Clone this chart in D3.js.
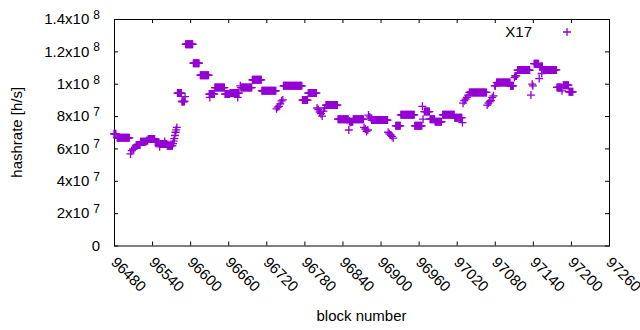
<!DOCTYPE html>
<html>
<head>
<meta charset="utf-8">
<script src="https://cdn.jsdelivr.net/npm/d3@7"></script>
<style>
  body { margin: 0; background: #fff; }
  text { font-family: "Liberation Sans", Arial, sans-serif; fill: #000; }
</style>
</head>
<body>
<div id="chart"></div>
<script>
// hashrate per block, read as runs: [first block, last block, hashrate in MH/s]
const hashRuns = [
  [96480, 96483, 69.0], [96485, 96504, 66.6], [96506, 96506, 56.6], [96508, 96508, 58.6],
  [96510, 96511, 59.6], [96513, 96513, 60.8], [96515, 96521, 62.1], [96522, 96530, 64.1],
  [96531, 96533, 64.8], [96534, 96544, 65.8], [96545, 96551, 63.7], [96552, 96552, 61.0],
  [96553, 96563, 62.7], [96560, 96560, 64.3], [96564, 96572, 61.7], [96573, 96573, 63.0],
  [96574, 96574, 64.5], [96575, 96575, 66.0], [96576, 96576, 68.0], [96577, 96577, 70.0],
  [96578, 96578, 71.5], [96579, 96579, 73.0], [96580, 96586, 94.2], [96587, 96591, 89.0],
  [96592, 96592, 92.0], [96593, 96604, 124.4], [96605, 96614, 112.7], [96616, 96629, 105.3],
  [96630, 96638, 93.6], [96631, 96631, 91.5], [96639, 96654, 97.6], [96655, 96662, 93.6],
  [96663, 96677, 94.2], [96675, 96675, 91.5], [96679, 96679, 98.7], [96680, 96697, 97.6],
  [96698, 96712, 102.4], [96713, 96735, 95.6], [96736, 96736, 84.5], [96738, 96738, 85.5],
  [96740, 96740, 86.0], [96742, 96742, 87.5], [96744, 96744, 89.4], [96746, 96746, 90.0],
  [96747, 96776, 98.7], [96777, 96785, 89.9], [96786, 96799, 94.2], [96800, 96800, 85.0],
  [96802, 96802, 84.0], [96804, 96804, 82.5], [96806, 96806, 81.5], [96808, 96808, 80.0],
  [96810, 96810, 83.0], [96812, 96812, 85.0], [96814, 96832, 86.8], [96833, 96849, 78.1],
  [96850, 96850, 71.4], [96851, 96851, 77.0], [96852, 96852, 76.0], [96853, 96856, 76.5],
  [96857, 96873, 78.1], [96874, 96874, 73.0], [96876, 96876, 72.0], [96878, 96878, 70.5],
  [96880, 96880, 71.4], [96881, 96881, 80.6], [96883, 96883, 79.5], [96885, 96885, 78.5],
  [96886, 96911, 77.5], [96912, 96912, 70.0], [96914, 96914, 69.0], [96916, 96916, 68.3],
  [96918, 96918, 67.5], [96920, 96920, 66.4], [96924, 96931, 74.0], [96932, 96953, 80.8],
  [96954, 96965, 74.0], [96966, 96966, 86.0], [96967, 96967, 78.1], [96969, 96977, 82.8],
  [96978, 96985, 78.1], [96986, 96996, 76.5], [96998, 97016, 80.8], [97017, 97028, 79.0],
  [97029, 97029, 76.0], [97030, 97030, 88.0], [97032, 97032, 89.5], [97034, 97034, 90.5],
  [97036, 97036, 91.5], [97038, 97038, 93.0], [97040, 97067, 94.6], [97068, 97068, 86.8],
  [97070, 97070, 88.0], [97072, 97072, 89.0], [97074, 97074, 89.5], [97076, 97076, 91.5],
  [97078, 97078, 92.5], [97080, 97081, 98.7], [97083, 97104, 100.7], [97105, 97109, 98.7],
  [97111, 97111, 103.8], [97112, 97114, 104.8], [97116, 97135, 108.4], [97137, 97137, 93.0],
  [97139, 97139, 99.7], [97140, 97140, 98.7], [97142, 97149, 112.4], [97150, 97150, 103.2],
  [97151, 97155, 110.6], [97154, 97154, 106.3], [97156, 97177, 108.5], [97178, 97185, 97.7],
  [97186, 97186, 95.6], [97188, 97196, 99.1], [97197, 97203, 95.0]
];
const xTicks = [96480, 96540, 96600, 96660, 96720, 96780, 96840, 96900, 96960, 97020, 97080, 97140, 97200, 97260];
const yTicks = [0, 2e7, 4e7, 6e7, 8e7, 1e8, 1.2e8, 1.4e8];
const seriesName = "X17";

// one point per block
const data = [];
hashRuns.forEach(([b0, b1, v]) => {
  for (let b = b0; b <= b1; b++) data.push({ block: b, rate: v * 1e6 });
});

const width = 640, height = 330;
const margin = ({ top: 19, right: 31, bottom: 84.5, left: 114 });
const color = "#9400d3";

const x = d3.scaleLinear()
  .domain([96480, 97260])
  .range([margin.left, width - margin.right]);
const y = d3.scaleLinear()
  .domain([0, 1.4e8])
  .range([height - margin.bottom, margin.top]);

const svg = d3.select("#chart")
  .append("svg")
  .attr("width", width)
  .attr("height", height)
  .attr("viewBox", [0, 0, width, height]);

// inward ticks on all four sides, gnuplot-ish
const tick = 4;
svg.append("g")
  .attr("transform", `translate(0,${height - margin.bottom})`)
  .call(d3.axisBottom(x).tickValues(xTicks).tickSize(-tick).tickSizeOuter(0).tickFormat(""))
  .call(g => g.select(".domain").remove());
svg.append("g")
  .attr("transform", `translate(0,${margin.top})`)
  .call(d3.axisTop(x).tickValues(xTicks).tickSize(-tick).tickSizeOuter(0).tickFormat(""))
  .call(g => g.select(".domain").remove());
svg.append("g")
  .attr("transform", `translate(${margin.left},0)`)
  .call(d3.axisLeft(y).tickValues(yTicks).tickSize(-tick).tickSizeOuter(0).tickFormat(""))
  .call(g => g.select(".domain").remove());
svg.append("g")
  .attr("transform", `translate(${width - margin.right},0)`)
  .call(d3.axisRight(y).tickValues(yTicks).tickSize(-tick).tickSizeOuter(0).tickFormat(""))
  .call(g => g.select(".domain").remove());

svg.selectAll(".tick line").attr("stroke", "#000");

// border box
svg.append("rect")
  .attr("x", margin.left + 0.5)
  .attr("y", margin.top + 0.5)
  .attr("width", width - margin.right - margin.left)
  .attr("height", height - margin.bottom - margin.top)
  .attr("fill", "none")
  .attr("stroke", "#000")
  .attr("stroke-width", 1);

// y tick labels like 1.4x10^8
const yLab = svg.append("g")
  .attr("font-size", 15)
  .selectAll("text")
  .data(yTicks)
  .join("text")
  .attr("x", 100)
  .attr("y", d => y(d))
  .attr("dy", "0.35em")
  .attr("text-anchor", "end");
yLab.each(function (d) {
  const t = d3.select(this);
  if (d === 0) { t.text("0"); return; }
  const e = Math.floor(Math.log10(d));
  const m = +(d / Math.pow(10, e)).toFixed(1);
  t.append("tspan").text(`${m}x10`);
  t.append("tspan").attr("dx", 4).attr("dy", "-0.45em").attr("font-size", 12).text(e);
});

// x tick labels, rotated
svg.append("g")
  .attr("font-size", 15)
  .selectAll("text")
  .data(xTicks)
  .join("text")
  .attr("transform", d => `translate(${x(d)},${height - margin.bottom + 14}) rotate(45)`)
  .attr("dy", "0.35em")
  .attr("text-anchor", "start")
  .text(d => d);

svg.append("text")
  .attr("x", (margin.left + width - margin.right) / 2)
  .attr("y", 321)
  .attr("text-anchor", "middle")
  .attr("font-size", 15)
  .text("block number");

svg.append("text")
  .attr("transform", `translate(22,${(margin.top + height - margin.bottom) / 2}) rotate(-90)`)
  .attr("text-anchor", "middle")
  .attr("font-size", 15)
  .text("hashrate [h/s]");

const plus = 4;
const plusPath = (cx, cy) => `M${cx - plus},${cy}H${cx + plus}M${cx},${cy - plus}V${cy + plus}`;

svg.append("g")
  .attr("id", "gPoints")
  .selectAll("path")
  .data(data)
  .join("path")
  .attr("d", d => plusPath(x(d.block), y(d.rate)))
  .attr("stroke", color)
  .attr("stroke-width", 1.3)
  .attr("fill", "none");

// key
svg.append("text")
  .attr("x", 532)
  .attr("y", 32)
  .attr("dy", "0.35em")
  .attr("text-anchor", "end")
  .attr("font-size", 15)
  .text(seriesName);
svg.append("path")
  .attr("d", plusPath(567, 32))
  .attr("stroke", color)
  .attr("stroke-width", 1.3);
</script>
</body>
</html>
